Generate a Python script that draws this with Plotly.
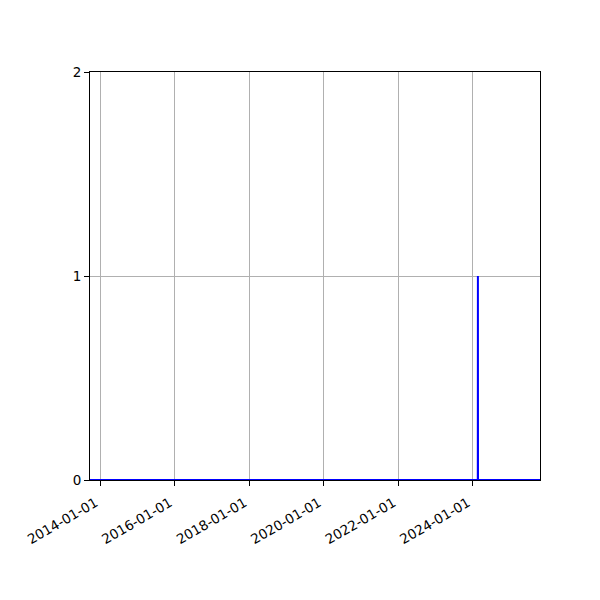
import plotly.graph_objects as go

# daily counts: zero everywhere except a single event in Feb 2024
dates = ["2013-09-20", "2024-02-18", "2024-02-19", "2024-02-20", "2025-10-20"]
counts = [0, 0, 1, 0, 0]

fig = go.Figure()
fig.add_trace(go.Scatter(x=dates, y=counts, mode="lines",
                         line=dict(color="#0000ff", width=2), showlegend=False))

fig.update_xaxes(range=["2013-09-20", "2025-10-20"], tick0="2014-01-01", dtick="M24",
                 tickformat="%Y-%m-%d", tickangle=-30, tickfont=dict(size=13.5),
                 ticklabelshift=-5, ticklabelstandoff=4,
                 showgrid=True, gridcolor="#b0b0b0", gridwidth=1,
                 showline=True, linecolor="black", linewidth=1, mirror=True,
                 ticks="outside", ticklen=5, tickcolor="black", zeroline=False)
fig.update_yaxes(range=[0, 2], tickvals=[0, 1, 2], tickfont=dict(size=13.5),
                 showgrid=True, gridcolor="#b0b0b0", gridwidth=1,
                 showline=True, linecolor="black", linewidth=1, mirror=True,
                 ticks="outside", ticklen=5, tickcolor="black", zeroline=False)

# page body adds 8px, so margins are offset to land the axes at 90..540 / 72..480
fig.update_layout(width=600, height=600, plot_bgcolor="white", paper_bgcolor="white",
                  margin=dict(l=82, r=68, t=64, b=128),
                  font=dict(family="DejaVu Sans", size=13, color="black"))

fig.write_html("out.html")
